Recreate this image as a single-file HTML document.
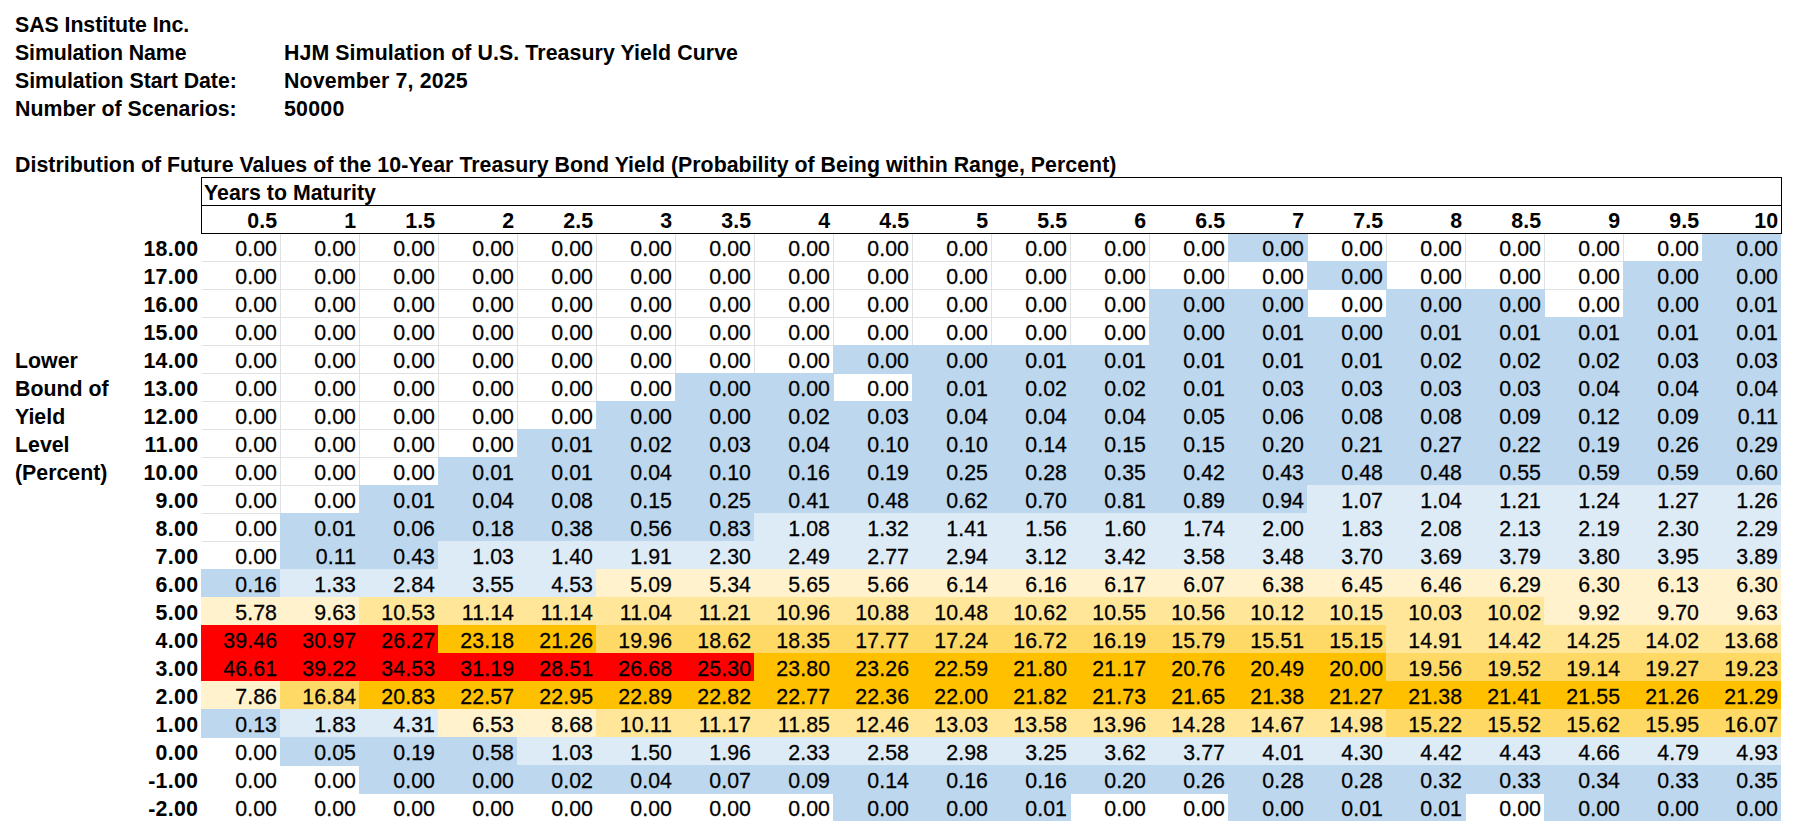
<!DOCTYPE html>
<html><head><meta charset="utf-8"><title>HJM Simulation</title>
<style>
html,body{margin:0;padding:0;background:#fff;}
body{width:1797px;height:833px;position:relative;overflow:hidden;font-family:"Liberation Sans",Arial,sans-serif;font-size:21.333px;color:#000;}
.t{position:absolute;white-space:nowrap;height:28px;line-height:28px;}
.b{font-weight:bold;transform:scaleY(1.045);transform-origin:0 21px;}
.r{text-align:right;}
.d{-webkit-text-stroke:0.25px #000;transform:scaleY(1.07);transform-origin:0 21px;}
.f{position:absolute;width:80px;height:29px;}
.g{position:absolute;background:#E1E1E1;}
.k{position:absolute;background:#000;}
</style></head><body>

<div class="g" style="left:280px;top:234px;width:1px;height:336px"></div>
<div class="g" style="left:359px;top:234px;width:1px;height:336px"></div>
<div class="g" style="left:438px;top:234px;width:1px;height:336px"></div>
<div class="g" style="left:517px;top:234px;width:1px;height:336px"></div>
<div class="g" style="left:596px;top:234px;width:1px;height:336px"></div>
<div class="g" style="left:675px;top:234px;width:1px;height:336px"></div>
<div class="g" style="left:754px;top:234px;width:1px;height:336px"></div>
<div class="g" style="left:833px;top:234px;width:1px;height:336px"></div>
<div class="g" style="left:912px;top:234px;width:1px;height:336px"></div>
<div class="g" style="left:991px;top:234px;width:1px;height:336px"></div>
<div class="g" style="left:1070px;top:234px;width:1px;height:336px"></div>
<div class="g" style="left:1149px;top:234px;width:1px;height:336px"></div>
<div class="g" style="left:1228px;top:234px;width:1px;height:336px"></div>
<div class="g" style="left:1307px;top:234px;width:1px;height:336px"></div>
<div class="g" style="left:1386px;top:234px;width:1px;height:336px"></div>
<div class="g" style="left:1465px;top:234px;width:1px;height:336px"></div>
<div class="g" style="left:1544px;top:234px;width:1px;height:336px"></div>
<div class="g" style="left:1623px;top:234px;width:1px;height:336px"></div>
<div class="g" style="left:1702px;top:234px;width:1px;height:336px"></div>
<div class="g" style="left:202px;top:261px;width:1579px;height:1px"></div>
<div class="g" style="left:202px;top:289px;width:1579px;height:1px"></div>
<div class="g" style="left:202px;top:317px;width:1579px;height:1px"></div>
<div class="g" style="left:202px;top:345px;width:1579px;height:1px"></div>
<div class="g" style="left:202px;top:373px;width:1579px;height:1px"></div>
<div class="g" style="left:202px;top:401px;width:1579px;height:1px"></div>
<div class="g" style="left:202px;top:429px;width:1579px;height:1px"></div>
<div class="g" style="left:202px;top:457px;width:1579px;height:1px"></div>
<div class="g" style="left:202px;top:485px;width:1579px;height:1px"></div>
<div class="g" style="left:202px;top:513px;width:1579px;height:1px"></div>
<div class="g" style="left:202px;top:541px;width:1579px;height:1px"></div>
<div class="g" style="left:202px;top:569px;width:1579px;height:1px"></div>
<div class="f" style="left:1228px;top:233px;background:#BDD7EE"></div>
<div class="f" style="left:1702px;top:233px;width:79px;background:#BDD7EE"></div>
<div class="f" style="left:1307px;top:261px;background:#BDD7EE"></div>
<div class="f" style="left:1623px;top:261px;background:#BDD7EE"></div>
<div class="f" style="left:1702px;top:261px;width:79px;background:#BDD7EE"></div>
<div class="f" style="left:1149px;top:289px;background:#BDD7EE"></div>
<div class="f" style="left:1228px;top:289px;background:#BDD7EE"></div>
<div class="f" style="left:1386px;top:289px;background:#BDD7EE"></div>
<div class="f" style="left:1465px;top:289px;background:#BDD7EE"></div>
<div class="f" style="left:1623px;top:289px;background:#BDD7EE"></div>
<div class="f" style="left:1702px;top:289px;width:79px;background:#BDD7EE"></div>
<div class="f" style="left:1149px;top:317px;background:#BDD7EE"></div>
<div class="f" style="left:1228px;top:317px;background:#BDD7EE"></div>
<div class="f" style="left:1307px;top:317px;background:#BDD7EE"></div>
<div class="f" style="left:1386px;top:317px;background:#BDD7EE"></div>
<div class="f" style="left:1465px;top:317px;background:#BDD7EE"></div>
<div class="f" style="left:1544px;top:317px;background:#BDD7EE"></div>
<div class="f" style="left:1623px;top:317px;background:#BDD7EE"></div>
<div class="f" style="left:1702px;top:317px;width:79px;background:#BDD7EE"></div>
<div class="f" style="left:833px;top:345px;background:#BDD7EE"></div>
<div class="f" style="left:912px;top:345px;background:#BDD7EE"></div>
<div class="f" style="left:991px;top:345px;background:#BDD7EE"></div>
<div class="f" style="left:1070px;top:345px;background:#BDD7EE"></div>
<div class="f" style="left:1149px;top:345px;background:#BDD7EE"></div>
<div class="f" style="left:1228px;top:345px;background:#BDD7EE"></div>
<div class="f" style="left:1307px;top:345px;background:#BDD7EE"></div>
<div class="f" style="left:1386px;top:345px;background:#BDD7EE"></div>
<div class="f" style="left:1465px;top:345px;background:#BDD7EE"></div>
<div class="f" style="left:1544px;top:345px;background:#BDD7EE"></div>
<div class="f" style="left:1623px;top:345px;background:#BDD7EE"></div>
<div class="f" style="left:1702px;top:345px;width:79px;background:#BDD7EE"></div>
<div class="f" style="left:675px;top:373px;background:#BDD7EE"></div>
<div class="f" style="left:754px;top:373px;background:#BDD7EE"></div>
<div class="f" style="left:912px;top:373px;background:#BDD7EE"></div>
<div class="f" style="left:991px;top:373px;background:#BDD7EE"></div>
<div class="f" style="left:1070px;top:373px;background:#BDD7EE"></div>
<div class="f" style="left:1149px;top:373px;background:#BDD7EE"></div>
<div class="f" style="left:1228px;top:373px;background:#BDD7EE"></div>
<div class="f" style="left:1307px;top:373px;background:#BDD7EE"></div>
<div class="f" style="left:1386px;top:373px;background:#BDD7EE"></div>
<div class="f" style="left:1465px;top:373px;background:#BDD7EE"></div>
<div class="f" style="left:1544px;top:373px;background:#BDD7EE"></div>
<div class="f" style="left:1623px;top:373px;background:#BDD7EE"></div>
<div class="f" style="left:1702px;top:373px;width:79px;background:#BDD7EE"></div>
<div class="f" style="left:596px;top:401px;background:#BDD7EE"></div>
<div class="f" style="left:675px;top:401px;background:#BDD7EE"></div>
<div class="f" style="left:754px;top:401px;background:#BDD7EE"></div>
<div class="f" style="left:833px;top:401px;background:#BDD7EE"></div>
<div class="f" style="left:912px;top:401px;background:#BDD7EE"></div>
<div class="f" style="left:991px;top:401px;background:#BDD7EE"></div>
<div class="f" style="left:1070px;top:401px;background:#BDD7EE"></div>
<div class="f" style="left:1149px;top:401px;background:#BDD7EE"></div>
<div class="f" style="left:1228px;top:401px;background:#BDD7EE"></div>
<div class="f" style="left:1307px;top:401px;background:#BDD7EE"></div>
<div class="f" style="left:1386px;top:401px;background:#BDD7EE"></div>
<div class="f" style="left:1465px;top:401px;background:#BDD7EE"></div>
<div class="f" style="left:1544px;top:401px;background:#BDD7EE"></div>
<div class="f" style="left:1623px;top:401px;background:#BDD7EE"></div>
<div class="f" style="left:1702px;top:401px;width:79px;background:#BDD7EE"></div>
<div class="f" style="left:517px;top:429px;background:#BDD7EE"></div>
<div class="f" style="left:596px;top:429px;background:#BDD7EE"></div>
<div class="f" style="left:675px;top:429px;background:#BDD7EE"></div>
<div class="f" style="left:754px;top:429px;background:#BDD7EE"></div>
<div class="f" style="left:833px;top:429px;background:#BDD7EE"></div>
<div class="f" style="left:912px;top:429px;background:#BDD7EE"></div>
<div class="f" style="left:991px;top:429px;background:#BDD7EE"></div>
<div class="f" style="left:1070px;top:429px;background:#BDD7EE"></div>
<div class="f" style="left:1149px;top:429px;background:#BDD7EE"></div>
<div class="f" style="left:1228px;top:429px;background:#BDD7EE"></div>
<div class="f" style="left:1307px;top:429px;background:#BDD7EE"></div>
<div class="f" style="left:1386px;top:429px;background:#BDD7EE"></div>
<div class="f" style="left:1465px;top:429px;background:#BDD7EE"></div>
<div class="f" style="left:1544px;top:429px;background:#BDD7EE"></div>
<div class="f" style="left:1623px;top:429px;background:#BDD7EE"></div>
<div class="f" style="left:1702px;top:429px;width:79px;background:#BDD7EE"></div>
<div class="f" style="left:438px;top:457px;background:#BDD7EE"></div>
<div class="f" style="left:517px;top:457px;background:#BDD7EE"></div>
<div class="f" style="left:596px;top:457px;background:#BDD7EE"></div>
<div class="f" style="left:675px;top:457px;background:#BDD7EE"></div>
<div class="f" style="left:754px;top:457px;background:#BDD7EE"></div>
<div class="f" style="left:833px;top:457px;background:#BDD7EE"></div>
<div class="f" style="left:912px;top:457px;background:#BDD7EE"></div>
<div class="f" style="left:991px;top:457px;background:#BDD7EE"></div>
<div class="f" style="left:1070px;top:457px;background:#BDD7EE"></div>
<div class="f" style="left:1149px;top:457px;background:#BDD7EE"></div>
<div class="f" style="left:1228px;top:457px;background:#BDD7EE"></div>
<div class="f" style="left:1307px;top:457px;background:#BDD7EE"></div>
<div class="f" style="left:1386px;top:457px;background:#BDD7EE"></div>
<div class="f" style="left:1465px;top:457px;background:#BDD7EE"></div>
<div class="f" style="left:1544px;top:457px;background:#BDD7EE"></div>
<div class="f" style="left:1623px;top:457px;background:#BDD7EE"></div>
<div class="f" style="left:1702px;top:457px;width:79px;background:#BDD7EE"></div>
<div class="f" style="left:359px;top:485px;background:#BDD7EE"></div>
<div class="f" style="left:438px;top:485px;background:#BDD7EE"></div>
<div class="f" style="left:517px;top:485px;background:#BDD7EE"></div>
<div class="f" style="left:596px;top:485px;background:#BDD7EE"></div>
<div class="f" style="left:675px;top:485px;background:#BDD7EE"></div>
<div class="f" style="left:754px;top:485px;background:#BDD7EE"></div>
<div class="f" style="left:833px;top:485px;background:#BDD7EE"></div>
<div class="f" style="left:912px;top:485px;background:#BDD7EE"></div>
<div class="f" style="left:991px;top:485px;background:#BDD7EE"></div>
<div class="f" style="left:1070px;top:485px;background:#BDD7EE"></div>
<div class="f" style="left:1149px;top:485px;background:#BDD7EE"></div>
<div class="f" style="left:1228px;top:485px;background:#BDD7EE"></div>
<div class="f" style="left:1307px;top:485px;background:#DDEBF7"></div>
<div class="f" style="left:1386px;top:485px;background:#DDEBF7"></div>
<div class="f" style="left:1465px;top:485px;background:#DDEBF7"></div>
<div class="f" style="left:1544px;top:485px;background:#DDEBF7"></div>
<div class="f" style="left:1623px;top:485px;background:#DDEBF7"></div>
<div class="f" style="left:1702px;top:485px;width:79px;background:#DDEBF7"></div>
<div class="f" style="left:280px;top:513px;background:#BDD7EE"></div>
<div class="f" style="left:359px;top:513px;background:#BDD7EE"></div>
<div class="f" style="left:438px;top:513px;background:#BDD7EE"></div>
<div class="f" style="left:517px;top:513px;background:#BDD7EE"></div>
<div class="f" style="left:596px;top:513px;background:#BDD7EE"></div>
<div class="f" style="left:675px;top:513px;background:#BDD7EE"></div>
<div class="f" style="left:754px;top:513px;background:#DDEBF7"></div>
<div class="f" style="left:833px;top:513px;background:#DDEBF7"></div>
<div class="f" style="left:912px;top:513px;background:#DDEBF7"></div>
<div class="f" style="left:991px;top:513px;background:#DDEBF7"></div>
<div class="f" style="left:1070px;top:513px;background:#DDEBF7"></div>
<div class="f" style="left:1149px;top:513px;background:#DDEBF7"></div>
<div class="f" style="left:1228px;top:513px;background:#DDEBF7"></div>
<div class="f" style="left:1307px;top:513px;background:#DDEBF7"></div>
<div class="f" style="left:1386px;top:513px;background:#DDEBF7"></div>
<div class="f" style="left:1465px;top:513px;background:#DDEBF7"></div>
<div class="f" style="left:1544px;top:513px;background:#DDEBF7"></div>
<div class="f" style="left:1623px;top:513px;background:#DDEBF7"></div>
<div class="f" style="left:1702px;top:513px;width:79px;background:#DDEBF7"></div>
<div class="f" style="left:280px;top:541px;background:#BDD7EE"></div>
<div class="f" style="left:359px;top:541px;background:#BDD7EE"></div>
<div class="f" style="left:438px;top:541px;background:#DDEBF7"></div>
<div class="f" style="left:517px;top:541px;background:#DDEBF7"></div>
<div class="f" style="left:596px;top:541px;background:#DDEBF7"></div>
<div class="f" style="left:675px;top:541px;background:#DDEBF7"></div>
<div class="f" style="left:754px;top:541px;background:#DDEBF7"></div>
<div class="f" style="left:833px;top:541px;background:#DDEBF7"></div>
<div class="f" style="left:912px;top:541px;background:#DDEBF7"></div>
<div class="f" style="left:991px;top:541px;background:#DDEBF7"></div>
<div class="f" style="left:1070px;top:541px;background:#DDEBF7"></div>
<div class="f" style="left:1149px;top:541px;background:#DDEBF7"></div>
<div class="f" style="left:1228px;top:541px;background:#DDEBF7"></div>
<div class="f" style="left:1307px;top:541px;background:#DDEBF7"></div>
<div class="f" style="left:1386px;top:541px;background:#DDEBF7"></div>
<div class="f" style="left:1465px;top:541px;background:#DDEBF7"></div>
<div class="f" style="left:1544px;top:541px;background:#DDEBF7"></div>
<div class="f" style="left:1623px;top:541px;background:#DDEBF7"></div>
<div class="f" style="left:1702px;top:541px;width:79px;background:#DDEBF7"></div>
<div class="f" style="left:201px;top:569px;background:#BDD7EE"></div>
<div class="f" style="left:280px;top:569px;background:#DDEBF7"></div>
<div class="f" style="left:359px;top:569px;background:#DDEBF7"></div>
<div class="f" style="left:438px;top:569px;background:#DDEBF7"></div>
<div class="f" style="left:517px;top:569px;background:#DDEBF7"></div>
<div class="f" style="left:596px;top:569px;background:#FFF2CC"></div>
<div class="f" style="left:675px;top:569px;background:#FFF2CC"></div>
<div class="f" style="left:754px;top:569px;background:#FFF2CC"></div>
<div class="f" style="left:833px;top:569px;background:#FFF2CC"></div>
<div class="f" style="left:912px;top:569px;background:#FFF2CC"></div>
<div class="f" style="left:991px;top:569px;background:#FFF2CC"></div>
<div class="f" style="left:1070px;top:569px;background:#FFF2CC"></div>
<div class="f" style="left:1149px;top:569px;background:#FFF2CC"></div>
<div class="f" style="left:1228px;top:569px;background:#FFF2CC"></div>
<div class="f" style="left:1307px;top:569px;background:#FFF2CC"></div>
<div class="f" style="left:1386px;top:569px;background:#FFF2CC"></div>
<div class="f" style="left:1465px;top:569px;background:#FFF2CC"></div>
<div class="f" style="left:1544px;top:569px;background:#FFF2CC"></div>
<div class="f" style="left:1623px;top:569px;background:#FFF2CC"></div>
<div class="f" style="left:1702px;top:569px;width:79px;background:#FFF2CC"></div>
<div class="f" style="left:201px;top:597px;background:#FFF2CC"></div>
<div class="f" style="left:280px;top:597px;background:#FFF2CC"></div>
<div class="f" style="left:359px;top:597px;background:#FFE699"></div>
<div class="f" style="left:438px;top:597px;background:#FFE699"></div>
<div class="f" style="left:517px;top:597px;background:#FFE699"></div>
<div class="f" style="left:596px;top:597px;background:#FFE699"></div>
<div class="f" style="left:675px;top:597px;background:#FFE699"></div>
<div class="f" style="left:754px;top:597px;background:#FFE699"></div>
<div class="f" style="left:833px;top:597px;background:#FFE699"></div>
<div class="f" style="left:912px;top:597px;background:#FFE699"></div>
<div class="f" style="left:991px;top:597px;background:#FFE699"></div>
<div class="f" style="left:1070px;top:597px;background:#FFE699"></div>
<div class="f" style="left:1149px;top:597px;background:#FFE699"></div>
<div class="f" style="left:1228px;top:597px;background:#FFE699"></div>
<div class="f" style="left:1307px;top:597px;background:#FFE699"></div>
<div class="f" style="left:1386px;top:597px;background:#FFE699"></div>
<div class="f" style="left:1465px;top:597px;background:#FFE699"></div>
<div class="f" style="left:1544px;top:597px;background:#FFF2CC"></div>
<div class="f" style="left:1623px;top:597px;background:#FFF2CC"></div>
<div class="f" style="left:1702px;top:597px;width:79px;background:#FFF2CC"></div>
<div class="f" style="left:201px;top:625px;background:#FF0000"></div>
<div class="f" style="left:280px;top:625px;background:#FF0000"></div>
<div class="f" style="left:359px;top:625px;background:#FF0000"></div>
<div class="f" style="left:438px;top:625px;background:#FFC000"></div>
<div class="f" style="left:517px;top:625px;background:#FFC000"></div>
<div class="f" style="left:596px;top:625px;background:#FFD966"></div>
<div class="f" style="left:675px;top:625px;background:#FFD966"></div>
<div class="f" style="left:754px;top:625px;background:#FFD966"></div>
<div class="f" style="left:833px;top:625px;background:#FFD966"></div>
<div class="f" style="left:912px;top:625px;background:#FFD966"></div>
<div class="f" style="left:991px;top:625px;background:#FFD966"></div>
<div class="f" style="left:1070px;top:625px;background:#FFD966"></div>
<div class="f" style="left:1149px;top:625px;background:#FFD966"></div>
<div class="f" style="left:1228px;top:625px;background:#FFD966"></div>
<div class="f" style="left:1307px;top:625px;background:#FFD966"></div>
<div class="f" style="left:1386px;top:625px;background:#FFE699"></div>
<div class="f" style="left:1465px;top:625px;background:#FFE699"></div>
<div class="f" style="left:1544px;top:625px;background:#FFE699"></div>
<div class="f" style="left:1623px;top:625px;background:#FFE699"></div>
<div class="f" style="left:1702px;top:625px;width:79px;background:#FFE699"></div>
<div class="f" style="left:201px;top:653px;background:#FF0000"></div>
<div class="f" style="left:280px;top:653px;background:#FF0000"></div>
<div class="f" style="left:359px;top:653px;background:#FF0000"></div>
<div class="f" style="left:438px;top:653px;background:#FF0000"></div>
<div class="f" style="left:517px;top:653px;background:#FF0000"></div>
<div class="f" style="left:596px;top:653px;background:#FF0000"></div>
<div class="f" style="left:675px;top:653px;background:#FF0000"></div>
<div class="f" style="left:754px;top:653px;background:#FFC000"></div>
<div class="f" style="left:833px;top:653px;background:#FFC000"></div>
<div class="f" style="left:912px;top:653px;background:#FFC000"></div>
<div class="f" style="left:991px;top:653px;background:#FFC000"></div>
<div class="f" style="left:1070px;top:653px;background:#FFC000"></div>
<div class="f" style="left:1149px;top:653px;background:#FFC000"></div>
<div class="f" style="left:1228px;top:653px;background:#FFC000"></div>
<div class="f" style="left:1307px;top:653px;background:#FFC000"></div>
<div class="f" style="left:1386px;top:653px;background:#FFD966"></div>
<div class="f" style="left:1465px;top:653px;background:#FFD966"></div>
<div class="f" style="left:1544px;top:653px;background:#FFD966"></div>
<div class="f" style="left:1623px;top:653px;background:#FFD966"></div>
<div class="f" style="left:1702px;top:653px;width:79px;background:#FFD966"></div>
<div class="f" style="left:201px;top:681px;background:#FFF2CC"></div>
<div class="f" style="left:280px;top:681px;background:#FFD966"></div>
<div class="f" style="left:359px;top:681px;background:#FFC000"></div>
<div class="f" style="left:438px;top:681px;background:#FFC000"></div>
<div class="f" style="left:517px;top:681px;background:#FFC000"></div>
<div class="f" style="left:596px;top:681px;background:#FFC000"></div>
<div class="f" style="left:675px;top:681px;background:#FFC000"></div>
<div class="f" style="left:754px;top:681px;background:#FFC000"></div>
<div class="f" style="left:833px;top:681px;background:#FFC000"></div>
<div class="f" style="left:912px;top:681px;background:#FFC000"></div>
<div class="f" style="left:991px;top:681px;background:#FFC000"></div>
<div class="f" style="left:1070px;top:681px;background:#FFC000"></div>
<div class="f" style="left:1149px;top:681px;background:#FFC000"></div>
<div class="f" style="left:1228px;top:681px;background:#FFC000"></div>
<div class="f" style="left:1307px;top:681px;background:#FFC000"></div>
<div class="f" style="left:1386px;top:681px;background:#FFC000"></div>
<div class="f" style="left:1465px;top:681px;background:#FFC000"></div>
<div class="f" style="left:1544px;top:681px;background:#FFC000"></div>
<div class="f" style="left:1623px;top:681px;background:#FFC000"></div>
<div class="f" style="left:1702px;top:681px;width:79px;background:#FFC000"></div>
<div class="f" style="left:201px;top:709px;background:#BDD7EE"></div>
<div class="f" style="left:280px;top:709px;background:#DDEBF7"></div>
<div class="f" style="left:359px;top:709px;background:#DDEBF7"></div>
<div class="f" style="left:438px;top:709px;background:#FFF2CC"></div>
<div class="f" style="left:517px;top:709px;background:#FFF2CC"></div>
<div class="f" style="left:596px;top:709px;background:#FFE699"></div>
<div class="f" style="left:675px;top:709px;background:#FFE699"></div>
<div class="f" style="left:754px;top:709px;background:#FFE699"></div>
<div class="f" style="left:833px;top:709px;background:#FFE699"></div>
<div class="f" style="left:912px;top:709px;background:#FFE699"></div>
<div class="f" style="left:991px;top:709px;background:#FFE699"></div>
<div class="f" style="left:1070px;top:709px;background:#FFE699"></div>
<div class="f" style="left:1149px;top:709px;background:#FFE699"></div>
<div class="f" style="left:1228px;top:709px;background:#FFE699"></div>
<div class="f" style="left:1307px;top:709px;background:#FFE699"></div>
<div class="f" style="left:1386px;top:709px;background:#FFD966"></div>
<div class="f" style="left:1465px;top:709px;background:#FFD966"></div>
<div class="f" style="left:1544px;top:709px;background:#FFD966"></div>
<div class="f" style="left:1623px;top:709px;background:#FFD966"></div>
<div class="f" style="left:1702px;top:709px;width:79px;background:#FFD966"></div>
<div class="f" style="left:280px;top:737px;background:#BDD7EE"></div>
<div class="f" style="left:359px;top:737px;background:#BDD7EE"></div>
<div class="f" style="left:438px;top:737px;background:#BDD7EE"></div>
<div class="f" style="left:517px;top:737px;background:#DDEBF7"></div>
<div class="f" style="left:596px;top:737px;background:#DDEBF7"></div>
<div class="f" style="left:675px;top:737px;background:#DDEBF7"></div>
<div class="f" style="left:754px;top:737px;background:#DDEBF7"></div>
<div class="f" style="left:833px;top:737px;background:#DDEBF7"></div>
<div class="f" style="left:912px;top:737px;background:#DDEBF7"></div>
<div class="f" style="left:991px;top:737px;background:#DDEBF7"></div>
<div class="f" style="left:1070px;top:737px;background:#DDEBF7"></div>
<div class="f" style="left:1149px;top:737px;background:#DDEBF7"></div>
<div class="f" style="left:1228px;top:737px;background:#DDEBF7"></div>
<div class="f" style="left:1307px;top:737px;background:#DDEBF7"></div>
<div class="f" style="left:1386px;top:737px;background:#DDEBF7"></div>
<div class="f" style="left:1465px;top:737px;background:#DDEBF7"></div>
<div class="f" style="left:1544px;top:737px;background:#DDEBF7"></div>
<div class="f" style="left:1623px;top:737px;background:#DDEBF7"></div>
<div class="f" style="left:1702px;top:737px;width:79px;background:#DDEBF7"></div>
<div class="f" style="left:359px;top:765px;background:#BDD7EE"></div>
<div class="f" style="left:438px;top:765px;background:#BDD7EE"></div>
<div class="f" style="left:517px;top:765px;background:#BDD7EE"></div>
<div class="f" style="left:596px;top:765px;background:#BDD7EE"></div>
<div class="f" style="left:675px;top:765px;background:#BDD7EE"></div>
<div class="f" style="left:754px;top:765px;background:#BDD7EE"></div>
<div class="f" style="left:833px;top:765px;background:#BDD7EE"></div>
<div class="f" style="left:912px;top:765px;background:#BDD7EE"></div>
<div class="f" style="left:991px;top:765px;background:#BDD7EE"></div>
<div class="f" style="left:1070px;top:765px;background:#BDD7EE"></div>
<div class="f" style="left:1149px;top:765px;background:#BDD7EE"></div>
<div class="f" style="left:1228px;top:765px;background:#BDD7EE"></div>
<div class="f" style="left:1307px;top:765px;background:#BDD7EE"></div>
<div class="f" style="left:1386px;top:765px;background:#BDD7EE"></div>
<div class="f" style="left:1465px;top:765px;background:#BDD7EE"></div>
<div class="f" style="left:1544px;top:765px;background:#BDD7EE"></div>
<div class="f" style="left:1623px;top:765px;background:#BDD7EE"></div>
<div class="f" style="left:1702px;top:765px;width:79px;background:#BDD7EE"></div>
<div class="f" style="left:833px;top:793px;height:28px;background:#BDD7EE"></div>
<div class="f" style="left:912px;top:793px;height:28px;background:#BDD7EE"></div>
<div class="f" style="left:991px;top:793px;height:28px;background:#BDD7EE"></div>
<div class="f" style="left:1228px;top:793px;height:28px;background:#BDD7EE"></div>
<div class="f" style="left:1307px;top:793px;height:28px;background:#BDD7EE"></div>
<div class="f" style="left:1386px;top:793px;height:28px;background:#BDD7EE"></div>
<div class="f" style="left:1544px;top:793px;height:28px;background:#BDD7EE"></div>
<div class="f" style="left:1623px;top:793px;height:28px;background:#BDD7EE"></div>
<div class="f" style="left:1702px;top:793px;width:79px;height:28px;background:#BDD7EE"></div>
<div class="k" style="left:201px;top:177px;width:1581px;height:1px"></div>
<div class="k" style="left:201px;top:205px;width:1581px;height:1px"></div>
<div class="k" style="left:201px;top:233px;width:1581px;height:1px"></div>
<div class="k" style="left:201px;top:177px;width:1px;height:57px"></div>
<div class="k" style="left:1781px;top:177px;width:1px;height:57px"></div>
<div class="t b" style="left:15px;top:11px;letter-spacing:-0.065px;">SAS Institute Inc.</div>
<div class="t b" style="left:15px;top:39px;letter-spacing:-0.11px;">Simulation Name</div>
<div class="t b" style="left:284px;top:39px;letter-spacing:0.085px;">HJM Simulation of U.S. Treasury Yield Curve</div>
<div class="t b" style="left:15px;top:67px;letter-spacing:-0.045px;">Simulation Start Date:</div>
<div class="t b" style="left:284px;top:67px;letter-spacing:0.14px;">November 7, 2025</div>
<div class="t b" style="left:15px;top:95px;">Number of Scenarios:</div>
<div class="t b" style="left:284px;top:95px;letter-spacing:0.25px;">50000</div>
<div class="t b" style="left:15px;top:151px;letter-spacing:0.026px;">Distribution of Future Values of the 10-Year Treasury Bond Yield (Probability of Being within Range, Percent)</div>
<div class="t b" style="left:204px;top:179px;">Years to Maturity</div>
<div class="t b r" style="left:201px;top:207px;width:76px;">0.5</div>
<div class="t b r" style="left:280px;top:207px;width:76px;">1</div>
<div class="t b r" style="left:359px;top:207px;width:76px;">1.5</div>
<div class="t b r" style="left:438px;top:207px;width:76px;">2</div>
<div class="t b r" style="left:517px;top:207px;width:76px;">2.5</div>
<div class="t b r" style="left:596px;top:207px;width:76px;">3</div>
<div class="t b r" style="left:675px;top:207px;width:76px;">3.5</div>
<div class="t b r" style="left:754px;top:207px;width:76px;">4</div>
<div class="t b r" style="left:833px;top:207px;width:76px;">4.5</div>
<div class="t b r" style="left:912px;top:207px;width:76px;">5</div>
<div class="t b r" style="left:991px;top:207px;width:76px;">5.5</div>
<div class="t b r" style="left:1070px;top:207px;width:76px;">6</div>
<div class="t b r" style="left:1149px;top:207px;width:76px;">6.5</div>
<div class="t b r" style="left:1228px;top:207px;width:76px;">7</div>
<div class="t b r" style="left:1307px;top:207px;width:76px;">7.5</div>
<div class="t b r" style="left:1386px;top:207px;width:76px;">8</div>
<div class="t b r" style="left:1465px;top:207px;width:76px;">8.5</div>
<div class="t b r" style="left:1544px;top:207px;width:76px;">9</div>
<div class="t b r" style="left:1623px;top:207px;width:76px;">9.5</div>
<div class="t b r" style="left:1702px;top:207px;width:76px;">10</div>
<div class="t b r" style="left:122px;top:235px;width:76.3px;letter-spacing:0.3px;">18.00</div>
<div class="t r d" style="left:201px;top:235px;width:76.1px;letter-spacing:0.1px;">0.00</div>
<div class="t r d" style="left:280px;top:235px;width:76.1px;letter-spacing:0.1px;">0.00</div>
<div class="t r d" style="left:359px;top:235px;width:76.1px;letter-spacing:0.1px;">0.00</div>
<div class="t r d" style="left:438px;top:235px;width:76.1px;letter-spacing:0.1px;">0.00</div>
<div class="t r d" style="left:517px;top:235px;width:76.1px;letter-spacing:0.1px;">0.00</div>
<div class="t r d" style="left:596px;top:235px;width:76.1px;letter-spacing:0.1px;">0.00</div>
<div class="t r d" style="left:675px;top:235px;width:76.1px;letter-spacing:0.1px;">0.00</div>
<div class="t r d" style="left:754px;top:235px;width:76.1px;letter-spacing:0.1px;">0.00</div>
<div class="t r d" style="left:833px;top:235px;width:76.1px;letter-spacing:0.1px;">0.00</div>
<div class="t r d" style="left:912px;top:235px;width:76.1px;letter-spacing:0.1px;">0.00</div>
<div class="t r d" style="left:991px;top:235px;width:76.1px;letter-spacing:0.1px;">0.00</div>
<div class="t r d" style="left:1070px;top:235px;width:76.1px;letter-spacing:0.1px;">0.00</div>
<div class="t r d" style="left:1149px;top:235px;width:76.1px;letter-spacing:0.1px;">0.00</div>
<div class="t r d" style="left:1228px;top:235px;width:76.1px;letter-spacing:0.1px;">0.00</div>
<div class="t r d" style="left:1307px;top:235px;width:76.1px;letter-spacing:0.1px;">0.00</div>
<div class="t r d" style="left:1386px;top:235px;width:76.1px;letter-spacing:0.1px;">0.00</div>
<div class="t r d" style="left:1465px;top:235px;width:76.1px;letter-spacing:0.1px;">0.00</div>
<div class="t r d" style="left:1544px;top:235px;width:76.1px;letter-spacing:0.1px;">0.00</div>
<div class="t r d" style="left:1623px;top:235px;width:76.1px;letter-spacing:0.1px;">0.00</div>
<div class="t r d" style="left:1702px;top:235px;width:76.1px;letter-spacing:0.1px;">0.00</div>
<div class="t b r" style="left:122px;top:263px;width:76.3px;letter-spacing:0.3px;">17.00</div>
<div class="t r d" style="left:201px;top:263px;width:76.1px;letter-spacing:0.1px;">0.00</div>
<div class="t r d" style="left:280px;top:263px;width:76.1px;letter-spacing:0.1px;">0.00</div>
<div class="t r d" style="left:359px;top:263px;width:76.1px;letter-spacing:0.1px;">0.00</div>
<div class="t r d" style="left:438px;top:263px;width:76.1px;letter-spacing:0.1px;">0.00</div>
<div class="t r d" style="left:517px;top:263px;width:76.1px;letter-spacing:0.1px;">0.00</div>
<div class="t r d" style="left:596px;top:263px;width:76.1px;letter-spacing:0.1px;">0.00</div>
<div class="t r d" style="left:675px;top:263px;width:76.1px;letter-spacing:0.1px;">0.00</div>
<div class="t r d" style="left:754px;top:263px;width:76.1px;letter-spacing:0.1px;">0.00</div>
<div class="t r d" style="left:833px;top:263px;width:76.1px;letter-spacing:0.1px;">0.00</div>
<div class="t r d" style="left:912px;top:263px;width:76.1px;letter-spacing:0.1px;">0.00</div>
<div class="t r d" style="left:991px;top:263px;width:76.1px;letter-spacing:0.1px;">0.00</div>
<div class="t r d" style="left:1070px;top:263px;width:76.1px;letter-spacing:0.1px;">0.00</div>
<div class="t r d" style="left:1149px;top:263px;width:76.1px;letter-spacing:0.1px;">0.00</div>
<div class="t r d" style="left:1228px;top:263px;width:76.1px;letter-spacing:0.1px;">0.00</div>
<div class="t r d" style="left:1307px;top:263px;width:76.1px;letter-spacing:0.1px;">0.00</div>
<div class="t r d" style="left:1386px;top:263px;width:76.1px;letter-spacing:0.1px;">0.00</div>
<div class="t r d" style="left:1465px;top:263px;width:76.1px;letter-spacing:0.1px;">0.00</div>
<div class="t r d" style="left:1544px;top:263px;width:76.1px;letter-spacing:0.1px;">0.00</div>
<div class="t r d" style="left:1623px;top:263px;width:76.1px;letter-spacing:0.1px;">0.00</div>
<div class="t r d" style="left:1702px;top:263px;width:76.1px;letter-spacing:0.1px;">0.00</div>
<div class="t b r" style="left:122px;top:291px;width:76.3px;letter-spacing:0.3px;">16.00</div>
<div class="t r d" style="left:201px;top:291px;width:76.1px;letter-spacing:0.1px;">0.00</div>
<div class="t r d" style="left:280px;top:291px;width:76.1px;letter-spacing:0.1px;">0.00</div>
<div class="t r d" style="left:359px;top:291px;width:76.1px;letter-spacing:0.1px;">0.00</div>
<div class="t r d" style="left:438px;top:291px;width:76.1px;letter-spacing:0.1px;">0.00</div>
<div class="t r d" style="left:517px;top:291px;width:76.1px;letter-spacing:0.1px;">0.00</div>
<div class="t r d" style="left:596px;top:291px;width:76.1px;letter-spacing:0.1px;">0.00</div>
<div class="t r d" style="left:675px;top:291px;width:76.1px;letter-spacing:0.1px;">0.00</div>
<div class="t r d" style="left:754px;top:291px;width:76.1px;letter-spacing:0.1px;">0.00</div>
<div class="t r d" style="left:833px;top:291px;width:76.1px;letter-spacing:0.1px;">0.00</div>
<div class="t r d" style="left:912px;top:291px;width:76.1px;letter-spacing:0.1px;">0.00</div>
<div class="t r d" style="left:991px;top:291px;width:76.1px;letter-spacing:0.1px;">0.00</div>
<div class="t r d" style="left:1070px;top:291px;width:76.1px;letter-spacing:0.1px;">0.00</div>
<div class="t r d" style="left:1149px;top:291px;width:76.1px;letter-spacing:0.1px;">0.00</div>
<div class="t r d" style="left:1228px;top:291px;width:76.1px;letter-spacing:0.1px;">0.00</div>
<div class="t r d" style="left:1307px;top:291px;width:76.1px;letter-spacing:0.1px;">0.00</div>
<div class="t r d" style="left:1386px;top:291px;width:76.1px;letter-spacing:0.1px;">0.00</div>
<div class="t r d" style="left:1465px;top:291px;width:76.1px;letter-spacing:0.1px;">0.00</div>
<div class="t r d" style="left:1544px;top:291px;width:76.1px;letter-spacing:0.1px;">0.00</div>
<div class="t r d" style="left:1623px;top:291px;width:76.1px;letter-spacing:0.1px;">0.00</div>
<div class="t r d" style="left:1702px;top:291px;width:76.1px;letter-spacing:0.1px;">0.01</div>
<div class="t b r" style="left:122px;top:319px;width:76.3px;letter-spacing:0.3px;">15.00</div>
<div class="t r d" style="left:201px;top:319px;width:76.1px;letter-spacing:0.1px;">0.00</div>
<div class="t r d" style="left:280px;top:319px;width:76.1px;letter-spacing:0.1px;">0.00</div>
<div class="t r d" style="left:359px;top:319px;width:76.1px;letter-spacing:0.1px;">0.00</div>
<div class="t r d" style="left:438px;top:319px;width:76.1px;letter-spacing:0.1px;">0.00</div>
<div class="t r d" style="left:517px;top:319px;width:76.1px;letter-spacing:0.1px;">0.00</div>
<div class="t r d" style="left:596px;top:319px;width:76.1px;letter-spacing:0.1px;">0.00</div>
<div class="t r d" style="left:675px;top:319px;width:76.1px;letter-spacing:0.1px;">0.00</div>
<div class="t r d" style="left:754px;top:319px;width:76.1px;letter-spacing:0.1px;">0.00</div>
<div class="t r d" style="left:833px;top:319px;width:76.1px;letter-spacing:0.1px;">0.00</div>
<div class="t r d" style="left:912px;top:319px;width:76.1px;letter-spacing:0.1px;">0.00</div>
<div class="t r d" style="left:991px;top:319px;width:76.1px;letter-spacing:0.1px;">0.00</div>
<div class="t r d" style="left:1070px;top:319px;width:76.1px;letter-spacing:0.1px;">0.00</div>
<div class="t r d" style="left:1149px;top:319px;width:76.1px;letter-spacing:0.1px;">0.00</div>
<div class="t r d" style="left:1228px;top:319px;width:76.1px;letter-spacing:0.1px;">0.01</div>
<div class="t r d" style="left:1307px;top:319px;width:76.1px;letter-spacing:0.1px;">0.00</div>
<div class="t r d" style="left:1386px;top:319px;width:76.1px;letter-spacing:0.1px;">0.01</div>
<div class="t r d" style="left:1465px;top:319px;width:76.1px;letter-spacing:0.1px;">0.01</div>
<div class="t r d" style="left:1544px;top:319px;width:76.1px;letter-spacing:0.1px;">0.01</div>
<div class="t r d" style="left:1623px;top:319px;width:76.1px;letter-spacing:0.1px;">0.01</div>
<div class="t r d" style="left:1702px;top:319px;width:76.1px;letter-spacing:0.1px;">0.01</div>
<div class="t b" style="left:15px;top:347px;">Lower</div>
<div class="t b r" style="left:122px;top:347px;width:76.3px;letter-spacing:0.3px;">14.00</div>
<div class="t r d" style="left:201px;top:347px;width:76.1px;letter-spacing:0.1px;">0.00</div>
<div class="t r d" style="left:280px;top:347px;width:76.1px;letter-spacing:0.1px;">0.00</div>
<div class="t r d" style="left:359px;top:347px;width:76.1px;letter-spacing:0.1px;">0.00</div>
<div class="t r d" style="left:438px;top:347px;width:76.1px;letter-spacing:0.1px;">0.00</div>
<div class="t r d" style="left:517px;top:347px;width:76.1px;letter-spacing:0.1px;">0.00</div>
<div class="t r d" style="left:596px;top:347px;width:76.1px;letter-spacing:0.1px;">0.00</div>
<div class="t r d" style="left:675px;top:347px;width:76.1px;letter-spacing:0.1px;">0.00</div>
<div class="t r d" style="left:754px;top:347px;width:76.1px;letter-spacing:0.1px;">0.00</div>
<div class="t r d" style="left:833px;top:347px;width:76.1px;letter-spacing:0.1px;">0.00</div>
<div class="t r d" style="left:912px;top:347px;width:76.1px;letter-spacing:0.1px;">0.00</div>
<div class="t r d" style="left:991px;top:347px;width:76.1px;letter-spacing:0.1px;">0.01</div>
<div class="t r d" style="left:1070px;top:347px;width:76.1px;letter-spacing:0.1px;">0.01</div>
<div class="t r d" style="left:1149px;top:347px;width:76.1px;letter-spacing:0.1px;">0.01</div>
<div class="t r d" style="left:1228px;top:347px;width:76.1px;letter-spacing:0.1px;">0.01</div>
<div class="t r d" style="left:1307px;top:347px;width:76.1px;letter-spacing:0.1px;">0.01</div>
<div class="t r d" style="left:1386px;top:347px;width:76.1px;letter-spacing:0.1px;">0.02</div>
<div class="t r d" style="left:1465px;top:347px;width:76.1px;letter-spacing:0.1px;">0.02</div>
<div class="t r d" style="left:1544px;top:347px;width:76.1px;letter-spacing:0.1px;">0.02</div>
<div class="t r d" style="left:1623px;top:347px;width:76.1px;letter-spacing:0.1px;">0.03</div>
<div class="t r d" style="left:1702px;top:347px;width:76.1px;letter-spacing:0.1px;">0.03</div>
<div class="t b" style="left:15px;top:375px;">Bound of</div>
<div class="t b r" style="left:122px;top:375px;width:76.3px;letter-spacing:0.3px;">13.00</div>
<div class="t r d" style="left:201px;top:375px;width:76.1px;letter-spacing:0.1px;">0.00</div>
<div class="t r d" style="left:280px;top:375px;width:76.1px;letter-spacing:0.1px;">0.00</div>
<div class="t r d" style="left:359px;top:375px;width:76.1px;letter-spacing:0.1px;">0.00</div>
<div class="t r d" style="left:438px;top:375px;width:76.1px;letter-spacing:0.1px;">0.00</div>
<div class="t r d" style="left:517px;top:375px;width:76.1px;letter-spacing:0.1px;">0.00</div>
<div class="t r d" style="left:596px;top:375px;width:76.1px;letter-spacing:0.1px;">0.00</div>
<div class="t r d" style="left:675px;top:375px;width:76.1px;letter-spacing:0.1px;">0.00</div>
<div class="t r d" style="left:754px;top:375px;width:76.1px;letter-spacing:0.1px;">0.00</div>
<div class="t r d" style="left:833px;top:375px;width:76.1px;letter-spacing:0.1px;">0.00</div>
<div class="t r d" style="left:912px;top:375px;width:76.1px;letter-spacing:0.1px;">0.01</div>
<div class="t r d" style="left:991px;top:375px;width:76.1px;letter-spacing:0.1px;">0.02</div>
<div class="t r d" style="left:1070px;top:375px;width:76.1px;letter-spacing:0.1px;">0.02</div>
<div class="t r d" style="left:1149px;top:375px;width:76.1px;letter-spacing:0.1px;">0.01</div>
<div class="t r d" style="left:1228px;top:375px;width:76.1px;letter-spacing:0.1px;">0.03</div>
<div class="t r d" style="left:1307px;top:375px;width:76.1px;letter-spacing:0.1px;">0.03</div>
<div class="t r d" style="left:1386px;top:375px;width:76.1px;letter-spacing:0.1px;">0.03</div>
<div class="t r d" style="left:1465px;top:375px;width:76.1px;letter-spacing:0.1px;">0.03</div>
<div class="t r d" style="left:1544px;top:375px;width:76.1px;letter-spacing:0.1px;">0.04</div>
<div class="t r d" style="left:1623px;top:375px;width:76.1px;letter-spacing:0.1px;">0.04</div>
<div class="t r d" style="left:1702px;top:375px;width:76.1px;letter-spacing:0.1px;">0.04</div>
<div class="t b" style="left:15px;top:403px;">Yield</div>
<div class="t b r" style="left:122px;top:403px;width:76.3px;letter-spacing:0.3px;">12.00</div>
<div class="t r d" style="left:201px;top:403px;width:76.1px;letter-spacing:0.1px;">0.00</div>
<div class="t r d" style="left:280px;top:403px;width:76.1px;letter-spacing:0.1px;">0.00</div>
<div class="t r d" style="left:359px;top:403px;width:76.1px;letter-spacing:0.1px;">0.00</div>
<div class="t r d" style="left:438px;top:403px;width:76.1px;letter-spacing:0.1px;">0.00</div>
<div class="t r d" style="left:517px;top:403px;width:76.1px;letter-spacing:0.1px;">0.00</div>
<div class="t r d" style="left:596px;top:403px;width:76.1px;letter-spacing:0.1px;">0.00</div>
<div class="t r d" style="left:675px;top:403px;width:76.1px;letter-spacing:0.1px;">0.00</div>
<div class="t r d" style="left:754px;top:403px;width:76.1px;letter-spacing:0.1px;">0.02</div>
<div class="t r d" style="left:833px;top:403px;width:76.1px;letter-spacing:0.1px;">0.03</div>
<div class="t r d" style="left:912px;top:403px;width:76.1px;letter-spacing:0.1px;">0.04</div>
<div class="t r d" style="left:991px;top:403px;width:76.1px;letter-spacing:0.1px;">0.04</div>
<div class="t r d" style="left:1070px;top:403px;width:76.1px;letter-spacing:0.1px;">0.04</div>
<div class="t r d" style="left:1149px;top:403px;width:76.1px;letter-spacing:0.1px;">0.05</div>
<div class="t r d" style="left:1228px;top:403px;width:76.1px;letter-spacing:0.1px;">0.06</div>
<div class="t r d" style="left:1307px;top:403px;width:76.1px;letter-spacing:0.1px;">0.08</div>
<div class="t r d" style="left:1386px;top:403px;width:76.1px;letter-spacing:0.1px;">0.08</div>
<div class="t r d" style="left:1465px;top:403px;width:76.1px;letter-spacing:0.1px;">0.09</div>
<div class="t r d" style="left:1544px;top:403px;width:76.1px;letter-spacing:0.1px;">0.12</div>
<div class="t r d" style="left:1623px;top:403px;width:76.1px;letter-spacing:0.1px;">0.09</div>
<div class="t r d" style="left:1702px;top:403px;width:76.1px;letter-spacing:0.1px;">0.11</div>
<div class="t b" style="left:15px;top:431px;">Level</div>
<div class="t b r" style="left:122px;top:431px;width:76.3px;letter-spacing:0.3px;">11.00</div>
<div class="t r d" style="left:201px;top:431px;width:76.1px;letter-spacing:0.1px;">0.00</div>
<div class="t r d" style="left:280px;top:431px;width:76.1px;letter-spacing:0.1px;">0.00</div>
<div class="t r d" style="left:359px;top:431px;width:76.1px;letter-spacing:0.1px;">0.00</div>
<div class="t r d" style="left:438px;top:431px;width:76.1px;letter-spacing:0.1px;">0.00</div>
<div class="t r d" style="left:517px;top:431px;width:76.1px;letter-spacing:0.1px;">0.01</div>
<div class="t r d" style="left:596px;top:431px;width:76.1px;letter-spacing:0.1px;">0.02</div>
<div class="t r d" style="left:675px;top:431px;width:76.1px;letter-spacing:0.1px;">0.03</div>
<div class="t r d" style="left:754px;top:431px;width:76.1px;letter-spacing:0.1px;">0.04</div>
<div class="t r d" style="left:833px;top:431px;width:76.1px;letter-spacing:0.1px;">0.10</div>
<div class="t r d" style="left:912px;top:431px;width:76.1px;letter-spacing:0.1px;">0.10</div>
<div class="t r d" style="left:991px;top:431px;width:76.1px;letter-spacing:0.1px;">0.14</div>
<div class="t r d" style="left:1070px;top:431px;width:76.1px;letter-spacing:0.1px;">0.15</div>
<div class="t r d" style="left:1149px;top:431px;width:76.1px;letter-spacing:0.1px;">0.15</div>
<div class="t r d" style="left:1228px;top:431px;width:76.1px;letter-spacing:0.1px;">0.20</div>
<div class="t r d" style="left:1307px;top:431px;width:76.1px;letter-spacing:0.1px;">0.21</div>
<div class="t r d" style="left:1386px;top:431px;width:76.1px;letter-spacing:0.1px;">0.27</div>
<div class="t r d" style="left:1465px;top:431px;width:76.1px;letter-spacing:0.1px;">0.22</div>
<div class="t r d" style="left:1544px;top:431px;width:76.1px;letter-spacing:0.1px;">0.19</div>
<div class="t r d" style="left:1623px;top:431px;width:76.1px;letter-spacing:0.1px;">0.26</div>
<div class="t r d" style="left:1702px;top:431px;width:76.1px;letter-spacing:0.1px;">0.29</div>
<div class="t b" style="left:15px;top:459px;">(Percent)</div>
<div class="t b r" style="left:122px;top:459px;width:76.3px;letter-spacing:0.3px;">10.00</div>
<div class="t r d" style="left:201px;top:459px;width:76.1px;letter-spacing:0.1px;">0.00</div>
<div class="t r d" style="left:280px;top:459px;width:76.1px;letter-spacing:0.1px;">0.00</div>
<div class="t r d" style="left:359px;top:459px;width:76.1px;letter-spacing:0.1px;">0.00</div>
<div class="t r d" style="left:438px;top:459px;width:76.1px;letter-spacing:0.1px;">0.01</div>
<div class="t r d" style="left:517px;top:459px;width:76.1px;letter-spacing:0.1px;">0.01</div>
<div class="t r d" style="left:596px;top:459px;width:76.1px;letter-spacing:0.1px;">0.04</div>
<div class="t r d" style="left:675px;top:459px;width:76.1px;letter-spacing:0.1px;">0.10</div>
<div class="t r d" style="left:754px;top:459px;width:76.1px;letter-spacing:0.1px;">0.16</div>
<div class="t r d" style="left:833px;top:459px;width:76.1px;letter-spacing:0.1px;">0.19</div>
<div class="t r d" style="left:912px;top:459px;width:76.1px;letter-spacing:0.1px;">0.25</div>
<div class="t r d" style="left:991px;top:459px;width:76.1px;letter-spacing:0.1px;">0.28</div>
<div class="t r d" style="left:1070px;top:459px;width:76.1px;letter-spacing:0.1px;">0.35</div>
<div class="t r d" style="left:1149px;top:459px;width:76.1px;letter-spacing:0.1px;">0.42</div>
<div class="t r d" style="left:1228px;top:459px;width:76.1px;letter-spacing:0.1px;">0.43</div>
<div class="t r d" style="left:1307px;top:459px;width:76.1px;letter-spacing:0.1px;">0.48</div>
<div class="t r d" style="left:1386px;top:459px;width:76.1px;letter-spacing:0.1px;">0.48</div>
<div class="t r d" style="left:1465px;top:459px;width:76.1px;letter-spacing:0.1px;">0.55</div>
<div class="t r d" style="left:1544px;top:459px;width:76.1px;letter-spacing:0.1px;">0.59</div>
<div class="t r d" style="left:1623px;top:459px;width:76.1px;letter-spacing:0.1px;">0.59</div>
<div class="t r d" style="left:1702px;top:459px;width:76.1px;letter-spacing:0.1px;">0.60</div>
<div class="t b r" style="left:122px;top:487px;width:76.3px;letter-spacing:0.3px;">9.00</div>
<div class="t r d" style="left:201px;top:487px;width:76.1px;letter-spacing:0.1px;">0.00</div>
<div class="t r d" style="left:280px;top:487px;width:76.1px;letter-spacing:0.1px;">0.00</div>
<div class="t r d" style="left:359px;top:487px;width:76.1px;letter-spacing:0.1px;">0.01</div>
<div class="t r d" style="left:438px;top:487px;width:76.1px;letter-spacing:0.1px;">0.04</div>
<div class="t r d" style="left:517px;top:487px;width:76.1px;letter-spacing:0.1px;">0.08</div>
<div class="t r d" style="left:596px;top:487px;width:76.1px;letter-spacing:0.1px;">0.15</div>
<div class="t r d" style="left:675px;top:487px;width:76.1px;letter-spacing:0.1px;">0.25</div>
<div class="t r d" style="left:754px;top:487px;width:76.1px;letter-spacing:0.1px;">0.41</div>
<div class="t r d" style="left:833px;top:487px;width:76.1px;letter-spacing:0.1px;">0.48</div>
<div class="t r d" style="left:912px;top:487px;width:76.1px;letter-spacing:0.1px;">0.62</div>
<div class="t r d" style="left:991px;top:487px;width:76.1px;letter-spacing:0.1px;">0.70</div>
<div class="t r d" style="left:1070px;top:487px;width:76.1px;letter-spacing:0.1px;">0.81</div>
<div class="t r d" style="left:1149px;top:487px;width:76.1px;letter-spacing:0.1px;">0.89</div>
<div class="t r d" style="left:1228px;top:487px;width:76.1px;letter-spacing:0.1px;">0.94</div>
<div class="t r d" style="left:1307px;top:487px;width:76.1px;letter-spacing:0.1px;">1.07</div>
<div class="t r d" style="left:1386px;top:487px;width:76.1px;letter-spacing:0.1px;">1.04</div>
<div class="t r d" style="left:1465px;top:487px;width:76.1px;letter-spacing:0.1px;">1.21</div>
<div class="t r d" style="left:1544px;top:487px;width:76.1px;letter-spacing:0.1px;">1.24</div>
<div class="t r d" style="left:1623px;top:487px;width:76.1px;letter-spacing:0.1px;">1.27</div>
<div class="t r d" style="left:1702px;top:487px;width:76.1px;letter-spacing:0.1px;">1.26</div>
<div class="t b r" style="left:122px;top:515px;width:76.3px;letter-spacing:0.3px;">8.00</div>
<div class="t r d" style="left:201px;top:515px;width:76.1px;letter-spacing:0.1px;">0.00</div>
<div class="t r d" style="left:280px;top:515px;width:76.1px;letter-spacing:0.1px;">0.01</div>
<div class="t r d" style="left:359px;top:515px;width:76.1px;letter-spacing:0.1px;">0.06</div>
<div class="t r d" style="left:438px;top:515px;width:76.1px;letter-spacing:0.1px;">0.18</div>
<div class="t r d" style="left:517px;top:515px;width:76.1px;letter-spacing:0.1px;">0.38</div>
<div class="t r d" style="left:596px;top:515px;width:76.1px;letter-spacing:0.1px;">0.56</div>
<div class="t r d" style="left:675px;top:515px;width:76.1px;letter-spacing:0.1px;">0.83</div>
<div class="t r d" style="left:754px;top:515px;width:76.1px;letter-spacing:0.1px;">1.08</div>
<div class="t r d" style="left:833px;top:515px;width:76.1px;letter-spacing:0.1px;">1.32</div>
<div class="t r d" style="left:912px;top:515px;width:76.1px;letter-spacing:0.1px;">1.41</div>
<div class="t r d" style="left:991px;top:515px;width:76.1px;letter-spacing:0.1px;">1.56</div>
<div class="t r d" style="left:1070px;top:515px;width:76.1px;letter-spacing:0.1px;">1.60</div>
<div class="t r d" style="left:1149px;top:515px;width:76.1px;letter-spacing:0.1px;">1.74</div>
<div class="t r d" style="left:1228px;top:515px;width:76.1px;letter-spacing:0.1px;">2.00</div>
<div class="t r d" style="left:1307px;top:515px;width:76.1px;letter-spacing:0.1px;">1.83</div>
<div class="t r d" style="left:1386px;top:515px;width:76.1px;letter-spacing:0.1px;">2.08</div>
<div class="t r d" style="left:1465px;top:515px;width:76.1px;letter-spacing:0.1px;">2.13</div>
<div class="t r d" style="left:1544px;top:515px;width:76.1px;letter-spacing:0.1px;">2.19</div>
<div class="t r d" style="left:1623px;top:515px;width:76.1px;letter-spacing:0.1px;">2.30</div>
<div class="t r d" style="left:1702px;top:515px;width:76.1px;letter-spacing:0.1px;">2.29</div>
<div class="t b r" style="left:122px;top:543px;width:76.3px;letter-spacing:0.3px;">7.00</div>
<div class="t r d" style="left:201px;top:543px;width:76.1px;letter-spacing:0.1px;">0.00</div>
<div class="t r d" style="left:280px;top:543px;width:76.1px;letter-spacing:0.1px;">0.11</div>
<div class="t r d" style="left:359px;top:543px;width:76.1px;letter-spacing:0.1px;">0.43</div>
<div class="t r d" style="left:438px;top:543px;width:76.1px;letter-spacing:0.1px;">1.03</div>
<div class="t r d" style="left:517px;top:543px;width:76.1px;letter-spacing:0.1px;">1.40</div>
<div class="t r d" style="left:596px;top:543px;width:76.1px;letter-spacing:0.1px;">1.91</div>
<div class="t r d" style="left:675px;top:543px;width:76.1px;letter-spacing:0.1px;">2.30</div>
<div class="t r d" style="left:754px;top:543px;width:76.1px;letter-spacing:0.1px;">2.49</div>
<div class="t r d" style="left:833px;top:543px;width:76.1px;letter-spacing:0.1px;">2.77</div>
<div class="t r d" style="left:912px;top:543px;width:76.1px;letter-spacing:0.1px;">2.94</div>
<div class="t r d" style="left:991px;top:543px;width:76.1px;letter-spacing:0.1px;">3.12</div>
<div class="t r d" style="left:1070px;top:543px;width:76.1px;letter-spacing:0.1px;">3.42</div>
<div class="t r d" style="left:1149px;top:543px;width:76.1px;letter-spacing:0.1px;">3.58</div>
<div class="t r d" style="left:1228px;top:543px;width:76.1px;letter-spacing:0.1px;">3.48</div>
<div class="t r d" style="left:1307px;top:543px;width:76.1px;letter-spacing:0.1px;">3.70</div>
<div class="t r d" style="left:1386px;top:543px;width:76.1px;letter-spacing:0.1px;">3.69</div>
<div class="t r d" style="left:1465px;top:543px;width:76.1px;letter-spacing:0.1px;">3.79</div>
<div class="t r d" style="left:1544px;top:543px;width:76.1px;letter-spacing:0.1px;">3.80</div>
<div class="t r d" style="left:1623px;top:543px;width:76.1px;letter-spacing:0.1px;">3.95</div>
<div class="t r d" style="left:1702px;top:543px;width:76.1px;letter-spacing:0.1px;">3.89</div>
<div class="t b r" style="left:122px;top:571px;width:76.3px;letter-spacing:0.3px;">6.00</div>
<div class="t r d" style="left:201px;top:571px;width:76.1px;letter-spacing:0.1px;">0.16</div>
<div class="t r d" style="left:280px;top:571px;width:76.1px;letter-spacing:0.1px;">1.33</div>
<div class="t r d" style="left:359px;top:571px;width:76.1px;letter-spacing:0.1px;">2.84</div>
<div class="t r d" style="left:438px;top:571px;width:76.1px;letter-spacing:0.1px;">3.55</div>
<div class="t r d" style="left:517px;top:571px;width:76.1px;letter-spacing:0.1px;">4.53</div>
<div class="t r d" style="left:596px;top:571px;width:76.1px;letter-spacing:0.1px;">5.09</div>
<div class="t r d" style="left:675px;top:571px;width:76.1px;letter-spacing:0.1px;">5.34</div>
<div class="t r d" style="left:754px;top:571px;width:76.1px;letter-spacing:0.1px;">5.65</div>
<div class="t r d" style="left:833px;top:571px;width:76.1px;letter-spacing:0.1px;">5.66</div>
<div class="t r d" style="left:912px;top:571px;width:76.1px;letter-spacing:0.1px;">6.14</div>
<div class="t r d" style="left:991px;top:571px;width:76.1px;letter-spacing:0.1px;">6.16</div>
<div class="t r d" style="left:1070px;top:571px;width:76.1px;letter-spacing:0.1px;">6.17</div>
<div class="t r d" style="left:1149px;top:571px;width:76.1px;letter-spacing:0.1px;">6.07</div>
<div class="t r d" style="left:1228px;top:571px;width:76.1px;letter-spacing:0.1px;">6.38</div>
<div class="t r d" style="left:1307px;top:571px;width:76.1px;letter-spacing:0.1px;">6.45</div>
<div class="t r d" style="left:1386px;top:571px;width:76.1px;letter-spacing:0.1px;">6.46</div>
<div class="t r d" style="left:1465px;top:571px;width:76.1px;letter-spacing:0.1px;">6.29</div>
<div class="t r d" style="left:1544px;top:571px;width:76.1px;letter-spacing:0.1px;">6.30</div>
<div class="t r d" style="left:1623px;top:571px;width:76.1px;letter-spacing:0.1px;">6.13</div>
<div class="t r d" style="left:1702px;top:571px;width:76.1px;letter-spacing:0.1px;">6.30</div>
<div class="t b r" style="left:122px;top:599px;width:76.3px;letter-spacing:0.3px;">5.00</div>
<div class="t r d" style="left:201px;top:599px;width:76.1px;letter-spacing:0.1px;">5.78</div>
<div class="t r d" style="left:280px;top:599px;width:76.1px;letter-spacing:0.1px;">9.63</div>
<div class="t r d" style="left:359px;top:599px;width:76.1px;letter-spacing:0.1px;">10.53</div>
<div class="t r d" style="left:438px;top:599px;width:76.1px;letter-spacing:0.1px;">11.14</div>
<div class="t r d" style="left:517px;top:599px;width:76.1px;letter-spacing:0.1px;">11.14</div>
<div class="t r d" style="left:596px;top:599px;width:76.1px;letter-spacing:0.1px;">11.04</div>
<div class="t r d" style="left:675px;top:599px;width:76.1px;letter-spacing:0.1px;">11.21</div>
<div class="t r d" style="left:754px;top:599px;width:76.1px;letter-spacing:0.1px;">10.96</div>
<div class="t r d" style="left:833px;top:599px;width:76.1px;letter-spacing:0.1px;">10.88</div>
<div class="t r d" style="left:912px;top:599px;width:76.1px;letter-spacing:0.1px;">10.48</div>
<div class="t r d" style="left:991px;top:599px;width:76.1px;letter-spacing:0.1px;">10.62</div>
<div class="t r d" style="left:1070px;top:599px;width:76.1px;letter-spacing:0.1px;">10.55</div>
<div class="t r d" style="left:1149px;top:599px;width:76.1px;letter-spacing:0.1px;">10.56</div>
<div class="t r d" style="left:1228px;top:599px;width:76.1px;letter-spacing:0.1px;">10.12</div>
<div class="t r d" style="left:1307px;top:599px;width:76.1px;letter-spacing:0.1px;">10.15</div>
<div class="t r d" style="left:1386px;top:599px;width:76.1px;letter-spacing:0.1px;">10.03</div>
<div class="t r d" style="left:1465px;top:599px;width:76.1px;letter-spacing:0.1px;">10.02</div>
<div class="t r d" style="left:1544px;top:599px;width:76.1px;letter-spacing:0.1px;">9.92</div>
<div class="t r d" style="left:1623px;top:599px;width:76.1px;letter-spacing:0.1px;">9.70</div>
<div class="t r d" style="left:1702px;top:599px;width:76.1px;letter-spacing:0.1px;">9.63</div>
<div class="t b r" style="left:122px;top:627px;width:76.3px;letter-spacing:0.3px;">4.00</div>
<div class="t r d" style="left:201px;top:627px;width:76.1px;letter-spacing:0.1px;">39.46</div>
<div class="t r d" style="left:280px;top:627px;width:76.1px;letter-spacing:0.1px;">30.97</div>
<div class="t r d" style="left:359px;top:627px;width:76.1px;letter-spacing:0.1px;">26.27</div>
<div class="t r d" style="left:438px;top:627px;width:76.1px;letter-spacing:0.1px;">23.18</div>
<div class="t r d" style="left:517px;top:627px;width:76.1px;letter-spacing:0.1px;">21.26</div>
<div class="t r d" style="left:596px;top:627px;width:76.1px;letter-spacing:0.1px;">19.96</div>
<div class="t r d" style="left:675px;top:627px;width:76.1px;letter-spacing:0.1px;">18.62</div>
<div class="t r d" style="left:754px;top:627px;width:76.1px;letter-spacing:0.1px;">18.35</div>
<div class="t r d" style="left:833px;top:627px;width:76.1px;letter-spacing:0.1px;">17.77</div>
<div class="t r d" style="left:912px;top:627px;width:76.1px;letter-spacing:0.1px;">17.24</div>
<div class="t r d" style="left:991px;top:627px;width:76.1px;letter-spacing:0.1px;">16.72</div>
<div class="t r d" style="left:1070px;top:627px;width:76.1px;letter-spacing:0.1px;">16.19</div>
<div class="t r d" style="left:1149px;top:627px;width:76.1px;letter-spacing:0.1px;">15.79</div>
<div class="t r d" style="left:1228px;top:627px;width:76.1px;letter-spacing:0.1px;">15.51</div>
<div class="t r d" style="left:1307px;top:627px;width:76.1px;letter-spacing:0.1px;">15.15</div>
<div class="t r d" style="left:1386px;top:627px;width:76.1px;letter-spacing:0.1px;">14.91</div>
<div class="t r d" style="left:1465px;top:627px;width:76.1px;letter-spacing:0.1px;">14.42</div>
<div class="t r d" style="left:1544px;top:627px;width:76.1px;letter-spacing:0.1px;">14.25</div>
<div class="t r d" style="left:1623px;top:627px;width:76.1px;letter-spacing:0.1px;">14.02</div>
<div class="t r d" style="left:1702px;top:627px;width:76.1px;letter-spacing:0.1px;">13.68</div>
<div class="t b r" style="left:122px;top:655px;width:76.3px;letter-spacing:0.3px;">3.00</div>
<div class="t r d" style="left:201px;top:655px;width:76.1px;letter-spacing:0.1px;">46.61</div>
<div class="t r d" style="left:280px;top:655px;width:76.1px;letter-spacing:0.1px;">39.22</div>
<div class="t r d" style="left:359px;top:655px;width:76.1px;letter-spacing:0.1px;">34.53</div>
<div class="t r d" style="left:438px;top:655px;width:76.1px;letter-spacing:0.1px;">31.19</div>
<div class="t r d" style="left:517px;top:655px;width:76.1px;letter-spacing:0.1px;">28.51</div>
<div class="t r d" style="left:596px;top:655px;width:76.1px;letter-spacing:0.1px;">26.68</div>
<div class="t r d" style="left:675px;top:655px;width:76.1px;letter-spacing:0.1px;">25.30</div>
<div class="t r d" style="left:754px;top:655px;width:76.1px;letter-spacing:0.1px;">23.80</div>
<div class="t r d" style="left:833px;top:655px;width:76.1px;letter-spacing:0.1px;">23.26</div>
<div class="t r d" style="left:912px;top:655px;width:76.1px;letter-spacing:0.1px;">22.59</div>
<div class="t r d" style="left:991px;top:655px;width:76.1px;letter-spacing:0.1px;">21.80</div>
<div class="t r d" style="left:1070px;top:655px;width:76.1px;letter-spacing:0.1px;">21.17</div>
<div class="t r d" style="left:1149px;top:655px;width:76.1px;letter-spacing:0.1px;">20.76</div>
<div class="t r d" style="left:1228px;top:655px;width:76.1px;letter-spacing:0.1px;">20.49</div>
<div class="t r d" style="left:1307px;top:655px;width:76.1px;letter-spacing:0.1px;">20.00</div>
<div class="t r d" style="left:1386px;top:655px;width:76.1px;letter-spacing:0.1px;">19.56</div>
<div class="t r d" style="left:1465px;top:655px;width:76.1px;letter-spacing:0.1px;">19.52</div>
<div class="t r d" style="left:1544px;top:655px;width:76.1px;letter-spacing:0.1px;">19.14</div>
<div class="t r d" style="left:1623px;top:655px;width:76.1px;letter-spacing:0.1px;">19.27</div>
<div class="t r d" style="left:1702px;top:655px;width:76.1px;letter-spacing:0.1px;">19.23</div>
<div class="t b r" style="left:122px;top:683px;width:76.3px;letter-spacing:0.3px;">2.00</div>
<div class="t r d" style="left:201px;top:683px;width:76.1px;letter-spacing:0.1px;">7.86</div>
<div class="t r d" style="left:280px;top:683px;width:76.1px;letter-spacing:0.1px;">16.84</div>
<div class="t r d" style="left:359px;top:683px;width:76.1px;letter-spacing:0.1px;">20.83</div>
<div class="t r d" style="left:438px;top:683px;width:76.1px;letter-spacing:0.1px;">22.57</div>
<div class="t r d" style="left:517px;top:683px;width:76.1px;letter-spacing:0.1px;">22.95</div>
<div class="t r d" style="left:596px;top:683px;width:76.1px;letter-spacing:0.1px;">22.89</div>
<div class="t r d" style="left:675px;top:683px;width:76.1px;letter-spacing:0.1px;">22.82</div>
<div class="t r d" style="left:754px;top:683px;width:76.1px;letter-spacing:0.1px;">22.77</div>
<div class="t r d" style="left:833px;top:683px;width:76.1px;letter-spacing:0.1px;">22.36</div>
<div class="t r d" style="left:912px;top:683px;width:76.1px;letter-spacing:0.1px;">22.00</div>
<div class="t r d" style="left:991px;top:683px;width:76.1px;letter-spacing:0.1px;">21.82</div>
<div class="t r d" style="left:1070px;top:683px;width:76.1px;letter-spacing:0.1px;">21.73</div>
<div class="t r d" style="left:1149px;top:683px;width:76.1px;letter-spacing:0.1px;">21.65</div>
<div class="t r d" style="left:1228px;top:683px;width:76.1px;letter-spacing:0.1px;">21.38</div>
<div class="t r d" style="left:1307px;top:683px;width:76.1px;letter-spacing:0.1px;">21.27</div>
<div class="t r d" style="left:1386px;top:683px;width:76.1px;letter-spacing:0.1px;">21.38</div>
<div class="t r d" style="left:1465px;top:683px;width:76.1px;letter-spacing:0.1px;">21.41</div>
<div class="t r d" style="left:1544px;top:683px;width:76.1px;letter-spacing:0.1px;">21.55</div>
<div class="t r d" style="left:1623px;top:683px;width:76.1px;letter-spacing:0.1px;">21.26</div>
<div class="t r d" style="left:1702px;top:683px;width:76.1px;letter-spacing:0.1px;">21.29</div>
<div class="t b r" style="left:122px;top:711px;width:76.3px;letter-spacing:0.3px;">1.00</div>
<div class="t r d" style="left:201px;top:711px;width:76.1px;letter-spacing:0.1px;">0.13</div>
<div class="t r d" style="left:280px;top:711px;width:76.1px;letter-spacing:0.1px;">1.83</div>
<div class="t r d" style="left:359px;top:711px;width:76.1px;letter-spacing:0.1px;">4.31</div>
<div class="t r d" style="left:438px;top:711px;width:76.1px;letter-spacing:0.1px;">6.53</div>
<div class="t r d" style="left:517px;top:711px;width:76.1px;letter-spacing:0.1px;">8.68</div>
<div class="t r d" style="left:596px;top:711px;width:76.1px;letter-spacing:0.1px;">10.11</div>
<div class="t r d" style="left:675px;top:711px;width:76.1px;letter-spacing:0.1px;">11.17</div>
<div class="t r d" style="left:754px;top:711px;width:76.1px;letter-spacing:0.1px;">11.85</div>
<div class="t r d" style="left:833px;top:711px;width:76.1px;letter-spacing:0.1px;">12.46</div>
<div class="t r d" style="left:912px;top:711px;width:76.1px;letter-spacing:0.1px;">13.03</div>
<div class="t r d" style="left:991px;top:711px;width:76.1px;letter-spacing:0.1px;">13.58</div>
<div class="t r d" style="left:1070px;top:711px;width:76.1px;letter-spacing:0.1px;">13.96</div>
<div class="t r d" style="left:1149px;top:711px;width:76.1px;letter-spacing:0.1px;">14.28</div>
<div class="t r d" style="left:1228px;top:711px;width:76.1px;letter-spacing:0.1px;">14.67</div>
<div class="t r d" style="left:1307px;top:711px;width:76.1px;letter-spacing:0.1px;">14.98</div>
<div class="t r d" style="left:1386px;top:711px;width:76.1px;letter-spacing:0.1px;">15.22</div>
<div class="t r d" style="left:1465px;top:711px;width:76.1px;letter-spacing:0.1px;">15.52</div>
<div class="t r d" style="left:1544px;top:711px;width:76.1px;letter-spacing:0.1px;">15.62</div>
<div class="t r d" style="left:1623px;top:711px;width:76.1px;letter-spacing:0.1px;">15.95</div>
<div class="t r d" style="left:1702px;top:711px;width:76.1px;letter-spacing:0.1px;">16.07</div>
<div class="t b r" style="left:122px;top:739px;width:76.3px;letter-spacing:0.3px;">0.00</div>
<div class="t r d" style="left:201px;top:739px;width:76.1px;letter-spacing:0.1px;">0.00</div>
<div class="t r d" style="left:280px;top:739px;width:76.1px;letter-spacing:0.1px;">0.05</div>
<div class="t r d" style="left:359px;top:739px;width:76.1px;letter-spacing:0.1px;">0.19</div>
<div class="t r d" style="left:438px;top:739px;width:76.1px;letter-spacing:0.1px;">0.58</div>
<div class="t r d" style="left:517px;top:739px;width:76.1px;letter-spacing:0.1px;">1.03</div>
<div class="t r d" style="left:596px;top:739px;width:76.1px;letter-spacing:0.1px;">1.50</div>
<div class="t r d" style="left:675px;top:739px;width:76.1px;letter-spacing:0.1px;">1.96</div>
<div class="t r d" style="left:754px;top:739px;width:76.1px;letter-spacing:0.1px;">2.33</div>
<div class="t r d" style="left:833px;top:739px;width:76.1px;letter-spacing:0.1px;">2.58</div>
<div class="t r d" style="left:912px;top:739px;width:76.1px;letter-spacing:0.1px;">2.98</div>
<div class="t r d" style="left:991px;top:739px;width:76.1px;letter-spacing:0.1px;">3.25</div>
<div class="t r d" style="left:1070px;top:739px;width:76.1px;letter-spacing:0.1px;">3.62</div>
<div class="t r d" style="left:1149px;top:739px;width:76.1px;letter-spacing:0.1px;">3.77</div>
<div class="t r d" style="left:1228px;top:739px;width:76.1px;letter-spacing:0.1px;">4.01</div>
<div class="t r d" style="left:1307px;top:739px;width:76.1px;letter-spacing:0.1px;">4.30</div>
<div class="t r d" style="left:1386px;top:739px;width:76.1px;letter-spacing:0.1px;">4.42</div>
<div class="t r d" style="left:1465px;top:739px;width:76.1px;letter-spacing:0.1px;">4.43</div>
<div class="t r d" style="left:1544px;top:739px;width:76.1px;letter-spacing:0.1px;">4.66</div>
<div class="t r d" style="left:1623px;top:739px;width:76.1px;letter-spacing:0.1px;">4.79</div>
<div class="t r d" style="left:1702px;top:739px;width:76.1px;letter-spacing:0.1px;">4.93</div>
<div class="t b r" style="left:122px;top:767px;width:76.3px;letter-spacing:0.3px;">-1.00</div>
<div class="t r d" style="left:201px;top:767px;width:76.1px;letter-spacing:0.1px;">0.00</div>
<div class="t r d" style="left:280px;top:767px;width:76.1px;letter-spacing:0.1px;">0.00</div>
<div class="t r d" style="left:359px;top:767px;width:76.1px;letter-spacing:0.1px;">0.00</div>
<div class="t r d" style="left:438px;top:767px;width:76.1px;letter-spacing:0.1px;">0.00</div>
<div class="t r d" style="left:517px;top:767px;width:76.1px;letter-spacing:0.1px;">0.02</div>
<div class="t r d" style="left:596px;top:767px;width:76.1px;letter-spacing:0.1px;">0.04</div>
<div class="t r d" style="left:675px;top:767px;width:76.1px;letter-spacing:0.1px;">0.07</div>
<div class="t r d" style="left:754px;top:767px;width:76.1px;letter-spacing:0.1px;">0.09</div>
<div class="t r d" style="left:833px;top:767px;width:76.1px;letter-spacing:0.1px;">0.14</div>
<div class="t r d" style="left:912px;top:767px;width:76.1px;letter-spacing:0.1px;">0.16</div>
<div class="t r d" style="left:991px;top:767px;width:76.1px;letter-spacing:0.1px;">0.16</div>
<div class="t r d" style="left:1070px;top:767px;width:76.1px;letter-spacing:0.1px;">0.20</div>
<div class="t r d" style="left:1149px;top:767px;width:76.1px;letter-spacing:0.1px;">0.26</div>
<div class="t r d" style="left:1228px;top:767px;width:76.1px;letter-spacing:0.1px;">0.28</div>
<div class="t r d" style="left:1307px;top:767px;width:76.1px;letter-spacing:0.1px;">0.28</div>
<div class="t r d" style="left:1386px;top:767px;width:76.1px;letter-spacing:0.1px;">0.32</div>
<div class="t r d" style="left:1465px;top:767px;width:76.1px;letter-spacing:0.1px;">0.33</div>
<div class="t r d" style="left:1544px;top:767px;width:76.1px;letter-spacing:0.1px;">0.34</div>
<div class="t r d" style="left:1623px;top:767px;width:76.1px;letter-spacing:0.1px;">0.33</div>
<div class="t r d" style="left:1702px;top:767px;width:76.1px;letter-spacing:0.1px;">0.35</div>
<div class="t b r" style="left:122px;top:795px;width:76.3px;letter-spacing:0.3px;">-2.00</div>
<div class="t r d" style="left:201px;top:795px;width:76.1px;letter-spacing:0.1px;">0.00</div>
<div class="t r d" style="left:280px;top:795px;width:76.1px;letter-spacing:0.1px;">0.00</div>
<div class="t r d" style="left:359px;top:795px;width:76.1px;letter-spacing:0.1px;">0.00</div>
<div class="t r d" style="left:438px;top:795px;width:76.1px;letter-spacing:0.1px;">0.00</div>
<div class="t r d" style="left:517px;top:795px;width:76.1px;letter-spacing:0.1px;">0.00</div>
<div class="t r d" style="left:596px;top:795px;width:76.1px;letter-spacing:0.1px;">0.00</div>
<div class="t r d" style="left:675px;top:795px;width:76.1px;letter-spacing:0.1px;">0.00</div>
<div class="t r d" style="left:754px;top:795px;width:76.1px;letter-spacing:0.1px;">0.00</div>
<div class="t r d" style="left:833px;top:795px;width:76.1px;letter-spacing:0.1px;">0.00</div>
<div class="t r d" style="left:912px;top:795px;width:76.1px;letter-spacing:0.1px;">0.00</div>
<div class="t r d" style="left:991px;top:795px;width:76.1px;letter-spacing:0.1px;">0.01</div>
<div class="t r d" style="left:1070px;top:795px;width:76.1px;letter-spacing:0.1px;">0.00</div>
<div class="t r d" style="left:1149px;top:795px;width:76.1px;letter-spacing:0.1px;">0.00</div>
<div class="t r d" style="left:1228px;top:795px;width:76.1px;letter-spacing:0.1px;">0.00</div>
<div class="t r d" style="left:1307px;top:795px;width:76.1px;letter-spacing:0.1px;">0.01</div>
<div class="t r d" style="left:1386px;top:795px;width:76.1px;letter-spacing:0.1px;">0.01</div>
<div class="t r d" style="left:1465px;top:795px;width:76.1px;letter-spacing:0.1px;">0.00</div>
<div class="t r d" style="left:1544px;top:795px;width:76.1px;letter-spacing:0.1px;">0.00</div>
<div class="t r d" style="left:1623px;top:795px;width:76.1px;letter-spacing:0.1px;">0.00</div>
<div class="t r d" style="left:1702px;top:795px;width:76.1px;letter-spacing:0.1px;">0.00</div>
</body></html>
